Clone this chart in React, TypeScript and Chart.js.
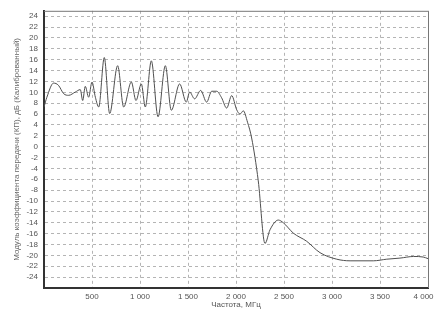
import React, { useEffect, useRef } from "react";
import { Chart, registerables } from "chart.js";

Chart.register(...registerables);

const freqs = [0, 30, 100, 150, 205, 257, 326, 378, 403, 430, 465, 500, 535, 570, 628, 684, 767, 830, 910, 958, 1014, 1055, 1118, 1188, 1264, 1326, 1413, 1482, 1517, 1569, 1632, 1694, 1747, 1799, 1850, 1903, 1955, 2007, 2042, 2076, 2120, 2163, 2232, 2302, 2354, 2441, 2493, 2597, 2736, 2875, 3049, 3188, 3430, 3570, 3708, 3850, 3950, 4000];
const gains = [7.3, 9.1, 11.7, 11.3, 9.75, 9.45, 10.05, 10.5, 8.5, 11.1, 9.1, 11.9, 9.1, 7.3, 16.4, 6.1, 14.9, 7.3, 11.9, 8.5, 11.55, 7.3, 15.8, 5.5, 14.9, 6.7, 11.55, 8.2, 10.05, 8.8, 10.35, 8.2, 10.2, 10.2, 9.0, 7.1, 9.4, 6.8, 6.0, 6.6, 4.5, 1.6, -6.3, -17.8, -15.3, -13.5, -14.0, -15.9, -17.4, -19.5, -20.7, -21.0, -21.0, -20.7, -20.5, -20.2, -20.3, -20.6];

const xTicks = [0, 500, 1000, 1500, 2000, 2500, 3000, 3500, 4000];
const yTicks = [-24, -22, -20, -18, -16, -14, -12, -10, -8, -6, -4, -2, 0, 2, 4, 6, 8, 10, 12, 14, 16, 18, 20, 22, 24];

const xTitle = "Частота, МГц";
const yTitle = "Модуль коэффициента передачи (КП), дБ (Калиброванный)";

const fmt = (v: number) => {
  if (v === 0) return "";
  const s = String(Math.abs(v)).replace(/\B(?=(\d{3})+(?!\d))/g, " ");
  return (v < 0 ? "-" : "") + s;
};

const framePlugin = {
  id: "frame",
  afterDraw(chart: any) {
    const { ctx, chartArea } = chart;
    ctx.save();
    ctx.strokeStyle = "#777";
    ctx.lineWidth = 1;
    ctx.beginPath();
    ctx.moveTo(chartArea.left, chartArea.top + 0.5);
    ctx.lineTo(chartArea.right + 0.5, chartArea.top + 0.5);
    ctx.lineTo(chartArea.right + 0.5, chartArea.bottom);
    ctx.stroke();
    ctx.restore();
  },
};

export default function App() {
  const ref = useRef<HTMLCanvasElement | null>(null);
  useEffect(() => {
    if (!ref.current) return;
    const font = { family: "'Liberation Sans', Arial, sans-serif", size: 8 };
    const chart = new Chart(ref.current, {
      type: "line",
      data: {
        datasets: [
          {
            data: freqs.map((f, i) => ({ x: f, y: gains[i] })),
            borderColor: "#505050",
            borderWidth: 1,
            pointRadius: 0,
            cubicInterpolationMode: "monotone",
            fill: false,
          },
        ],
      },
      options: {
        animation: false,
        responsive: true,
        maintainAspectRatio: false,
        layout: { padding: { top: 8, right: 6, left: 0, bottom: 0 } },
        plugins: { legend: { display: false }, tooltip: { enabled: false } },
        scales: {
          x: {
            type: "linear",
            min: 0,
            max: 4000,
            afterBuildTicks: (s: any) => {
              s.ticks = xTicks.map((v) => ({ value: v }));
            },
            afterFit: (s: any) => {
              s.height = 30;
              s.paddingLeft = 0;
              s.paddingRight = 0;
            },
            ticks: {
              font,
              color: "#555",
              padding: 4,
              maxRotation: 0,
              autoSkip: false,
              callback: (v: any) => (v === 4000 ? fmt(v) + "    " : fmt(v)),
            },
            grid: {
              color: "#b4b4b4",
              lineWidth: 1,
              drawTicks: false,
            },
            border: { color: "#333", width: 2, dash: [3, 3] },
            title: {
              display: true,
              text: xTitle,
              font,
              color: "#555",
              padding: { top: 0, bottom: 8 },
            },
          },
          y: {
            type: "linear",
            min: -26,
            max: 25,
            afterBuildTicks: (s: any) => {
              s.ticks = yTicks.map((v) => ({ value: v }));
            },
            afterFit: (s: any) => {
              s.width = 44;
            },
            ticks: {
              font,
              color: "#555",
              padding: 6,
              autoSkip: false,
              callback: (v: any) => String(v),
            },
            grid: {
              color: "#b4b4b4",
              lineWidth: 1,
              drawTicks: false,
            },
            border: { color: "#333", width: 2, dash: [3, 3] },
            title: {
              display: true,
              text: yTitle,
              font,
              color: "#666",
              padding: { top: 12, bottom: 0 },
            },
          },
        },
      },
      plugins: [framePlugin],
    } as any);
    return () => chart.destroy();
  }, []);
  return (
    <div style={{ position: "fixed", left: 0, top: 0, width: 434, height: 318, background: "#fff" }}>
      <canvas ref={ref} />
    </div>
  );
}
